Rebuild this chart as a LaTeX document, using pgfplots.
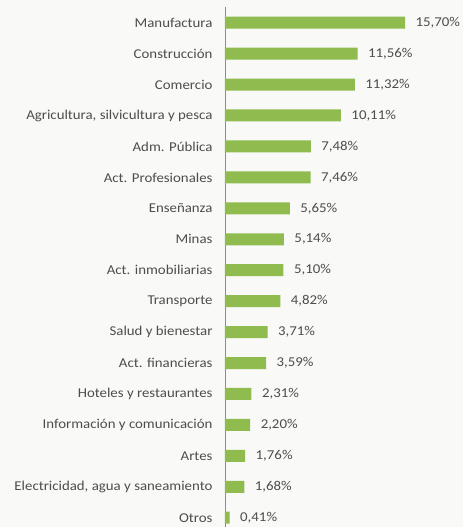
\documentclass[border=0pt]{standalone}
\usepackage{fontspec}
\setmainfont[FakeStretch=1.1]{Carlito}
\usepackage{pgfplots}
\pgfplotsset{compat=1.18}
\definecolor{barra}{RGB}{143,187,79}
\definecolor{texto}{RGB}{77,77,77}
\definecolor{fondo}{RGB}{249,249,247}
\begin{document}
\begin{tikzpicture}
\fill[fondo] (-225bp,0) rectangle (238bp,527bp);
\clip (-225bp,0) rectangle (238bp,527bp);
\begin{axis}[
  at={(0,0)}, anchor=south west,
  xbar, scale only axis,
  width=229.4bp, height=519.8bp,
  xmin=0, xmax=20, ymin=-0.5, ymax=16.3,
  y dir=reverse,
  axis x line=none, axis y line*=left,
  y axis line style={draw=black!45, line width=0.6pt},
  ytick={0,...,16},
  yticklabels={Manufactura, Construcción, Comercio, {Agricultura, silvicultura y pesca}, Adm. Pública, Act. Profesionales, Enseñanza, Minas, Act. inmobiliarias, Transporte, Salud y bienestar, Act. financieras, Hoteles y restaurantes, Información y comunicación, Artes, {Electricidad, agua y saneamiento}, Otros},
  major tick length=0pt,
  tick label style={text=texto, font=\fontsize{13.5bp}{16bp}\selectfont},
  yticklabel style={anchor=east, xshift=-9bp},
  bar width=12bp,
  nodes near coords={\pgfmathprintnumber[fixed,fixed zerofill,precision=2,use comma,assume math mode=true]{\pgfplotspointmeta}\%},
  nodes near coords style={text=texto, font=\fontsize{13.5bp}{16bp}\selectfont, xshift=7bp},
]
\addplot[draw=none, fill=barra] coordinates {
(15.70,0) (11.56,1) (11.32,2) (10.11,3) (7.48,4) (7.46,5) (5.65,6) (5.14,7) (5.10,8)
(4.82,9) (3.71,10) (3.59,11) (2.31,12) (2.20,13) (1.76,14) (1.68,15) (0.41,16)};
\end{axis}
\end{tikzpicture}
\end{document}
